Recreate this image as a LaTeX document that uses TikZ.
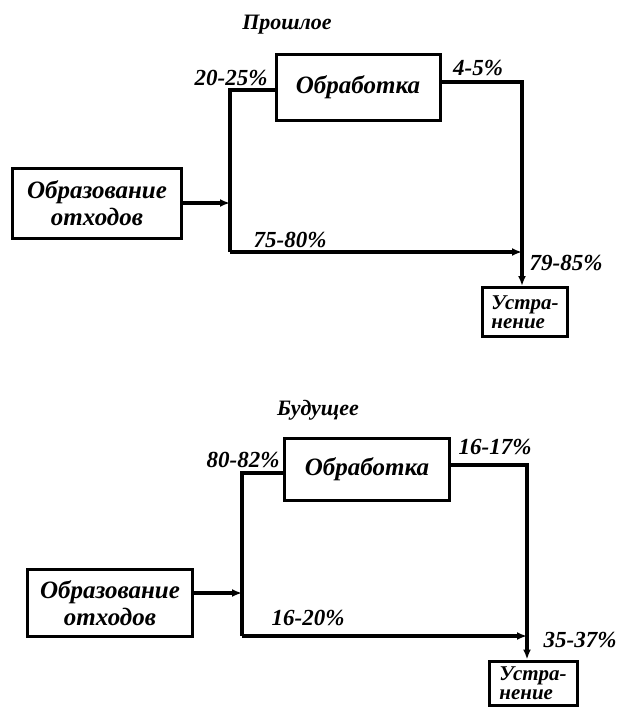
\documentclass[tikz,border=0pt]{standalone}
\usepackage{fontspec}
\setmainfont{Liberation Serif}
\usetikzlibrary{arrows.meta,positioning}
\tikzset{
  box/.style={rectangle, draw=black, line width=3pt, align=center, inner sep=1pt,
    font=\bfseries\itshape\fontsize{25}{27}\selectfont},
  sbox/.style={box, align=left, inner sep=0pt, font=\bfseries\itshape\fontsize{21}{19}\selectfont},
  lbl/.style={font=\bfseries\itshape\fontsize{23}{25}\selectfont, inner sep=1pt},
  ttl/.style={font=\bfseries\itshape\fontsize{22}{24}\selectfont, inner sep=1pt},
  conn/.style={draw=black, line width=3.2pt},
  conna/.style={conn, -{Latex[length=10pt,width=8pt]}},
}
\begin{document}
\begin{tikzpicture}[x=1pt,y=-1pt]
  \useasboundingbox (0,0) rectangle (620,707);
  % Прошлое
  \node[ttl] (tA) at (287,25) {Прошлое};
  \node[box, minimum width=169pt, minimum height=70pt] (obrA) at (97,203) {Образование\\отходов};
  \node[box, minimum width=164pt, minimum height=66pt] (procA) at (358,87) {Обработка};
  \node[sbox, minimum width=85pt, minimum height=49pt] (ustrA) at (525,312) {Устра-\\нение};
  \coordinate (jA) at (230,203);
  \coordinate (bA) at (230,252);
  \coordinate (kA) at (522,252);
  \draw[conna] (obrA.east) -- (jA);
  \draw[conn] (jA) |- ([yshift=-3pt]procA.west);
  \draw[conn] (jA) -- (bA);
  \draw[conna] (bA) -- (kA);
  \draw[conna] ([yshift=5pt]procA.east) -| (kA) -- (kA |- ustrA.north);
  \node[lbl] (pA1) at (231,78) {20-25\%};
  \node[lbl] (pA2) at (478,68) {4-5\%};
  \node[lbl] (pA3) at (290,240) {75-80\%};
  \node[lbl] (pA4) at (566,263) {79-85\%};
  % Будущее
  \node[ttl] (tB) at (318,410) {Будущее};
  \node[box, minimum width=165pt, minimum height=67pt] (obrB) at (110,603) {Образование\\отходов};
  \node[box, minimum width=165pt, minimum height=62pt] (procB) at (367,469) {Обработка};
  \node[sbox, minimum width=88pt, minimum height=44pt] (ustrB) at (533,683) {Устра-\\нение};
  \coordinate (jB) at (242,593);
  \coordinate (bB) at (242,636);
  \coordinate (kB) at (527,636);
  \draw[conna] ([yshift=10pt]obrB.east) -- (jB);
  \draw[conn] (jB) |- ([yshift=-4pt]procB.west);
  \draw[conn] (jB) -- (bB);
  \draw[conna] (bB) -- (kB);
  \draw[conna] ([yshift=4pt]procB.east) -| (kB) -- (kB |- ustrB.north);
  \node[lbl] (pB1) at (243,460) {80-82\%};
  \node[lbl] (pB2) at (495,447) {16-17\%};
  \node[lbl] (pB3) at (308,618) {16-20\%};
  \node[lbl] (pB4) at (580,640) {35-37\%};
\end{tikzpicture}
\end{document}
